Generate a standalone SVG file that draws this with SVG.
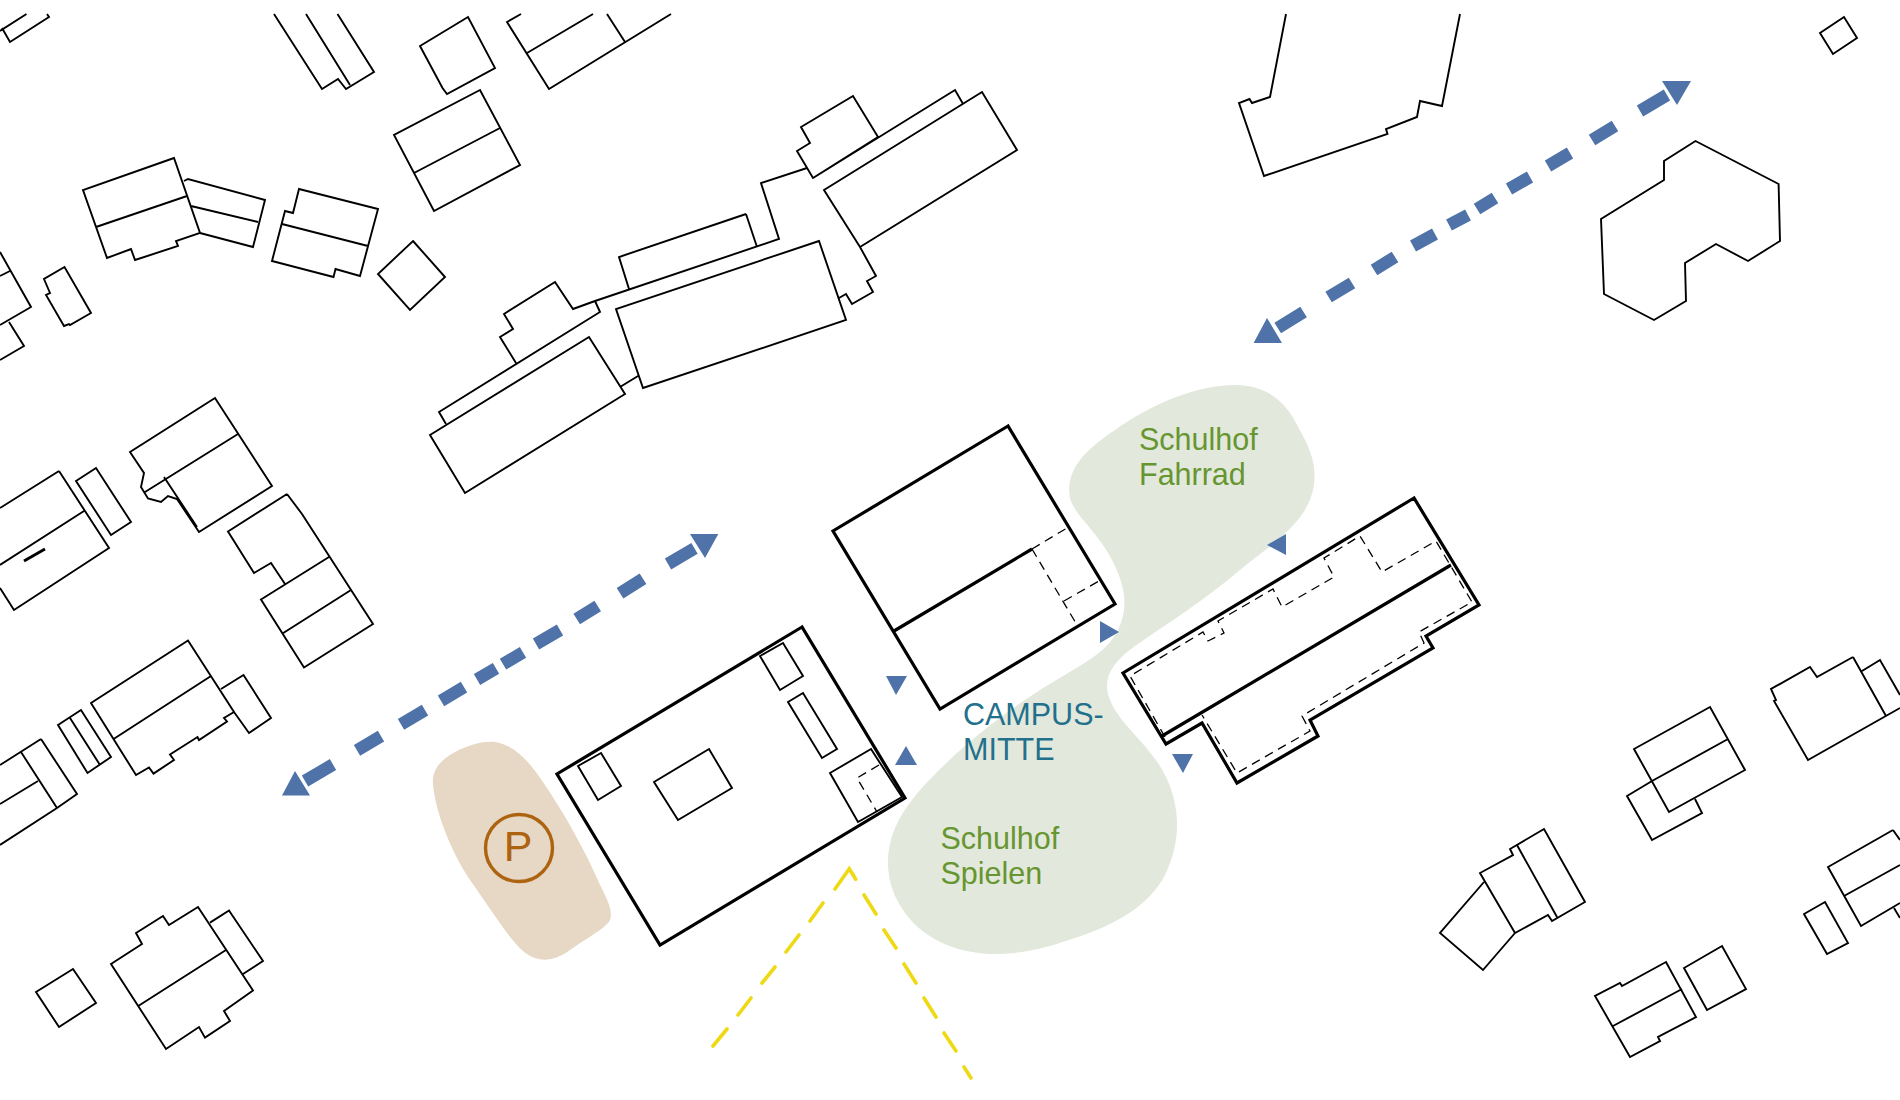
<svg xmlns="http://www.w3.org/2000/svg" width="1900" height="1100" viewBox="0 0 1900 1100">
<style>
.b{fill:none;stroke:#000;stroke-width:1.9;stroke-linejoin:miter}
.s{fill:none;stroke:#000;stroke-width:3.2;stroke-linejoin:miter}
.d{fill:none;stroke:#000;stroke-width:1.3;stroke-dasharray:9 6}
.a{fill:none;stroke:#4f73a9;stroke-width:12.500}
.h{fill:#4f73a9}
.y{fill:none;stroke:#efd915;stroke-width:3.6;stroke-linecap:round;stroke-linejoin:miter}
.t{font-family:"Liberation Sans",Arial,sans-serif;font-size:30.500px}
.g{fill:#67952f}
.c{fill:#22708c}
</style>
<rect width="1900" height="1100" fill="#fff"/>
<g id="areas">
<path id="schulhof-area" fill="#e2e8dc" d="M1236 385C1262 385 1284 398 1297 425C1310 448 1318 465 1313 490C1305 525 1270 545 1240 570C1205 600 1165 625 1135 646C1110 664 1102 680 1110 700C1120 725 1150 745 1165 775C1180 805 1182 840 1165 875C1150 905 1115 925 1075 938C1045 948 1020 955 990 954C950 952 915 935 897 900C880 865 888 830 912 800C935 770 985 725 1040 690C1080 665 1105 655 1118 630C1130 605 1125 580 1105 548C1090 525 1075 515 1070 498C1065 470 1085 450 1115 430C1150 405 1195 385 1236 385Z"/>
<path id="parking-area" fill="#e6d8c4" d="M433 784C432 770 440 760 455 752C470 744 485 741 495 742C515 745 530 762 545 785C565 815 585 850 600 885C608 900 613 912 610 920C606 928 590 936 570 950C555 961 540 963 527 954C512 944 495 915 470 880C450 850 435 810 433 784Z"/>
</g>
<g id="neighbours">
<g id="n1"><path class="b" d="M26.500 14L0 31M2 28L10 42L49 17L47 14"/></g>
<g id="n2"><path class="b" d="M274 14L322 89L338 79L346 89L374 72L337.500 14M306 14L350 85"/></g>
<g id="n3"><path class="b" d="M468 17L420 46L442.500 88L447 94L495 68Z"/></g>
<g id="n4"><path class="b" d="M521 14L507 22L549 89L671 14M527 53L593 14M607 14L625 42"/></g>
<g id="n5"><path class="b" d="M480 90L394 135L434 211L520 165ZM414 173L500 128"/></g>
<g id="n6"><path class="b" d="M174 158L83 190L107 258L131 249L135 260L178 246L176 241L200 233ZM96 227L187 196M184 181L188 179L265 200L253 247L200 233M191 206L258 222"/></g>
<g id="n7"><path class="b" d="M299 189L378 209L360 276L335.500 269L333.500 277L272 261L285 211L293 213ZM282 224L368 246"/></g>
<g id="n8"><path class="b" d="M413 241L445 277L410 310L378 274Z"/></g>
<g id="n9"><path class="b" d="M0 252L31 307L0 325M0 276L10 271M9 322L24 346L0 360"/></g>
<g id="n10"><path class="b" d="M64.500 267L44 279L50 293L46 295L64 326L69 324L70 325L91 313Z"/></g>
<g id="n11"><path class="b" d="M813 178L955 90L962.500 103M878 137L853 96L801 127L810 143L797 151L813 178ZM824 190L982 92L1017 150L860 247ZM860 247L876 276L867 281L873 292L852 304L846 294L839 298M807 168L761 183L779 239L595 301L573 309L555 282L504 314L513 329L500 337L516 363M595 301L600 312L439 412L446 424M746 214L619 257L629 289M746 214L757 247"/></g>
<g id="n12"><path class="b" d="M819 241L616 309L643 388L846 320ZM589 337L430 435L465 493L625 394ZM620 387L638 376"/></g>
<g id="n13"><path class="b" d="M215 398L130 452L144 473L141 487L148 498.500L161 502L168 496L177 499L199 532L272 486ZM145 492L238 434M164 477L197 527"/></g>
<g id="n14"><path class="b" d="M59 471L0 508M59 471L109 548L14 610L0 588M84 511L0 565"/><path d="M24 561L45 549" fill="none" stroke="#000" stroke-width="3"/></g>
<g id="n15"><path class="b" d="M96 468L76 481L111 535L131 522Z"/></g>
<g id="n16"><path class="b" d="M287 494L228 531.500L254 573L271 563L285 584M287 494L302 514L373 624L304 667.500L261 599.500L329 557M282.500 633.500L351 590"/></g>
<g id="n17"><path class="b" d="M188 640.500L91 703L136 775L149 767.500L153.500 773.600L174 760L170 754.500L197.500 737L199 740L227 721.500L224 718L234 712ZM113.600 739L211 676M221 689L243.500 675L271 718L249 733L234 712"/></g>
<g id="n18"><path class="b" d="M81 710L58 725L87.500 773L111 757ZM70 718L100 765"/></g>
<g id="n19"><path class="b" d="M41 739L0 765M41 739L77 794L57 808L0 845M21 752L57 808M0 804L38 781"/></g>
<g id="n20"><path class="b" d="M198 907L169 925L163 916L136 933L142 944L111 964L166 1049L199 1027L205 1037.600L230 1021L224 1011L253 990.600ZM139 1005.500L226 950M210 922.600L229 910.500L263 961L243 974"/></g>
<g id="n21"><path class="b" d="M73 969L36 992L59 1027L96 1003Z"/></g>
<g id="n22"><path class="b" d="M1286 14L1270 97L1252 103L1249.500 99L1239 103L1264 176L1387.500 134L1386 129L1417 117L1420 101L1442 106L1460 14"/></g>
<g id="n23"><path class="b" d="M1695.500 141L1778.600 184L1780 241L1748 261L1716 244L1685 263L1686 301L1654 320L1604 294L1601 219L1664 180L1664 161Z"/></g>
<g id="n24"><path class="b" d="M1844 17L1820 33L1833 54L1857 38Z"/></g>
<g id="n25"><path class="b" d="M1710 707L1634 749L1669 812L1745 770ZM1652 781L1728 739M1652 781L1627 796L1652 840L1702 813L1695 799"/></g>
<g id="n26"><path class="b" d="M1853 657L1817 677L1810 667L1771 689L1776 700L1774 701L1808 760L1900 708M1853 657L1886 716M1862 671L1880 660L1900 695"/></g>
<g id="n27"><path class="b" d="M1544 829L1510 849L1513 855L1480 873L1515 933L1548 915L1552 921L1585 902ZM1517 845L1557 917M1484 882L1440 933L1483 970L1515 933"/></g>
<g id="n28"><path class="b" d="M1666 962L1622 986L1620 983L1595 996L1630 1057L1660 1041L1658 1037L1696 1017ZM1613 1026L1682 989"/></g>
<g id="n29"><path class="b" d="M1722 946L1684 968L1707 1010L1746 989Z"/></g>
<g id="n30"><path class="b" d="M1825 902L1804 914L1827 954L1848 943Z"/></g>
<g id="n31"><path class="b" d="M1893 830L1828 867L1861 926L1900 903M1893 830L1900 840M1844 896L1900 865M1894 908L1900 918"/></g>
</g>
<g id="school">
<g id="building-west">
<path class="s" d="M802 627L557 774L660 945L905 798Z"/>
<path class="b" d="M783 643L760 656L780 690L803 676ZM803 693L788 702L822 758L837 749ZM601 753L578 766L598 800L621 786ZM709 749L654 782L678 820L732 788ZM871 749L830 773L858 822L902 797Z"/>
<path class="d" d="M879 765L857 778L877 812"/>
</g>
<g id="building-north">
<path class="s" d="M1008 426L833 531L940 709L1115 604ZM894 631L1032 549"/>
<path class="d" d="M1032 549L1067 528M1032 549L1077 625M1064 601L1099 581"/>
</g>
<g id="building-east">
<path class="s" d="M1414 498L1123 673L1166 744L1202 723L1237 783L1318 736L1310 720L1433 648L1426 636L1479 605ZM1162 736L1451 565"/>
<path class="d" d="M1165 737L1130 676L1203 632L1208 641L1224 633L1218 621L1273 589L1282 607L1334 577L1324 558L1360 536L1382 572L1436 541L1472 602L1419 632L1424 643L1302 716L1310 731L1237 773L1202 715"/>
</g>
</g>
<g id="connectors">
<g id="route-west">
<path class="a" d="M305 781L333 764.500M357 750.300L381 736.200M401 724.400L425 710.200M441 700.800L464 687.200M477 679.500L496 668.300M503 664.200L523 652.400M536 644L560 630M576.700 619L597.700 606M620 593.300L643 578.700M668 564L694.500 548.400"/>
<path class="h" d="M295 771L282 795.500H310ZM690 534H718.300L705 558Z"/>
</g>
<g id="route-north">
<path class="a" d="M1277.700 328L1303.600 312M1328.600 297L1352 283M1374 270L1395 257M1413 246L1435 234M1449 225L1468 215M1477 209L1495 198M1509 189L1530 177M1548 166L1570 153M1592 140L1615 126M1640 111L1667 95"/>
<path class="h" d="M1662 81H1691L1677 105ZM1267 318L1253.600 343H1282Z"/>
</g>
<g id="entrances">
<path class="h" d="M886 676H907L896 695ZM906 746L895 765H917ZM1100 621L1119 632L1100 643ZM1267 545L1286 534V555ZM1172 754H1193L1183 773Z"/>
</g>
<g id="view-cone">
<path class="y" d="M835 889L849.300 868.700L855.700 879.300M823 903L810 921M799 935L786 952M775 967L762 983M751 998L738 1015M727 1029L713 1046M864 895L876 914M884 930L896 948M904 964L916 983M924 998L936 1017M944 1033L956 1051M964 1067L971 1078"/>
</g>
</g>
<g id="labels">
<text class="t g" x="1139" y="450">Schulhof</text>
<text class="t g" x="1139" y="485">Fahrrad</text>
<text class="t c" x="963" y="725">CAMPUS-</text>
<text class="t c" x="963" y="760">MITTE</text>
<text class="t g" x="940.500" y="849">Schulhof</text>
<text class="t g" x="940.500" y="884">Spielen</text>
<g id="parking-symbol">
<circle cx="519" cy="848" r="33.500" fill="none" stroke="#ad630f" stroke-width="3.4"/>
<text x="518" y="861" text-anchor="middle" font-family="'Liberation Sans',Arial,sans-serif" font-size="43" fill="#ad630f">P</text>
</g>
</g>
</svg>
